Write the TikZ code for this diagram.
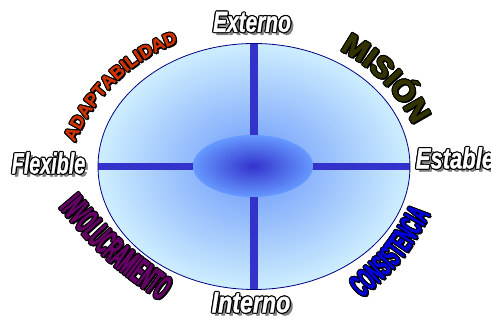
\documentclass[tikz,border=0pt]{standalone}
\usepackage{fontspec}
\setmainfont{Liberation Sans}
\newfontfamily\wafont[FakeBold=1.2]{Liberation Sans}
\newfontfamily\heavyfont[FakeBold=1.5]{Liberation Sans}
\newfontfamily\condA[FakeStretch=0.39,FakeBold=1.5]{Liberation Sans}
\newfontfamily\condB[FakeStretch=0.45,FakeBold=1.5]{Liberation Sans}
\usetikzlibrary{decorations.text,shapes.geometric}

\definecolor{crossblue}{RGB}{51,51,204}
\definecolor{rimnavy}{RGB}{0,0,128}
\definecolor{outerin}{RGB}{105,150,250}
\definecolor{outerout}{RGB}{206,238,255}
\definecolor{corein}{RGB}{51,51,204}
\definecolor{coreout}{RGB}{102,153,255}
\definecolor{shadowgray}{RGB}{128,128,128}
\definecolor{adaptcol}{RGB}{204,51,0}
\definecolor{misioncol}{RGB}{51,51,0}
\definecolor{involcol}{RGB}{102,0,102}
\definecolor{consiscol}{RGB}{0,0,220}

\newcommand{\fAdapt}{\heavyfont\bfseries\fontsize{18}{20}\selectfont}
\newcommand{\fMision}{\heavyfont\bfseries\fontsize{30}{32}\selectfont}
\newcommand{\fInvol}{\condA\bfseries\fontsize{36}{38}\selectfont}
\newcommand{\fConsis}{\condB\bfseries\fontsize{32}{34}\selectfont}
\newcommand{\cBlack}{\color{black}}

\tikzset{
  wabase/.style={font=\wafont\bfseries\itshape\fontsize{29}{31}\selectfont, inner sep=0pt},
}

% straight WordArt-like text: gray shadow, black outline, white fill
\newcommand{\waText}[5]{%
  \node[wabase, text=shadowgray, xshift=3pt, yshift=-3pt, xscale=#4] at (#2,#3) {#5};
  \foreach \dx/\dy in {1.2/0,-1.2/0,0/1.2,0/-1.2,.85/.85,-.85/.85,.85/-.85,-.85/-.85}{
    \node[wabase, text=black, xshift=\dx pt, yshift=\dy pt, xscale=#4] at (#2,#3) {#5};}
  \node[wabase, text=white, xscale=#4] (#1) at (#2,#3) {#5};
}

% curved text with black outline
\newcommand{\waArc}[4]{%
  \foreach \dx/\dy in {1.1/0,-1.1/0,0/1.1,0/-1.1,.8/.8,-.8/.8,.8/-.8,-.8/-.8,1.5/-1.5}{
    \path[xshift=\dx pt, yshift=\dy pt, decorate,
      decoration={text along path, text align=center, text={|#2\cBlack|#4}}] #3;}
  \path[decorate,
    decoration={text along path, text align=center, text={|#2#1|#4}}] #3;
}

\begin{document}
\begin{tikzpicture}[x=1pt,y=1pt]
\useasboundingbox[fill=white] (0,0) rectangle (491,320);

% main ellipse
\node[ellipse, minimum width=312pt, minimum height=246pt, inner sep=0pt,
      shade, inner color=outerin, outer color=outerout] (outer) at (254,153.5) {};
% cross
\draw[crossblue, line width=7.5pt] (outer.north) -- (outer.south);
\draw[crossblue, line width=7.5pt] (outer.west) -- (outer.east);
\draw[rimnavy, line width=0.8pt] (outer.center) ellipse [x radius=156, y radius=123];
% core ellipse
\node[ellipse, minimum width=120pt, minimum height=62pt, inner sep=0pt,
      shade, inner color=corein, outer color=coreout] (core) at (253,154) {};

% axis labels
\waText{ext}{252}{298}{0.72}{Externo}
\waText{int}{251}{17.5}{0.80}{Interno}
\waText{flex}{48.5}{157}{0.68}{Flexible}
\waText{est}{455}{162}{0.76}{Estable}

% curved labels
\waArc{\color{adaptcol}}{\fAdapt}{([shift={(172:180)}]241,109) arc[start angle=172, end angle=96, radius=180]}{ADAPTABILIDAD}
\waArc{\color{misioncol}}{\fMision}{([shift={(80:166)}]264,122) arc[start angle=80, end angle=9, radius=166]}{MISIÓN}
\waArc{\color{involcol}}{\fInvol}{(49,124) .. controls (103,60) .. (172,10)}{INVOLUCRAMIENTO}
\waArc{\color{consiscol}}{\fConsis}{(353,14) .. controls (403,58) .. (436,116)}{CONSISTENCIA}
\end{tikzpicture}
\end{document}
